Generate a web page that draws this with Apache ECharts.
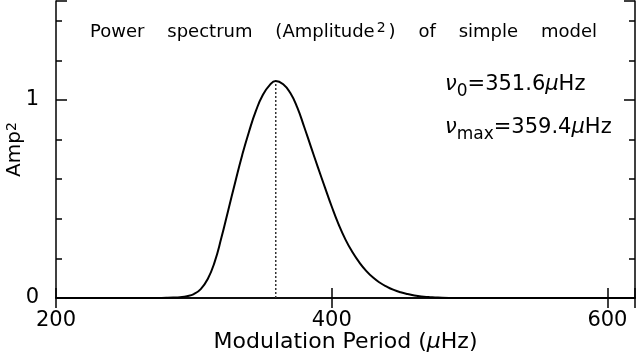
<!DOCTYPE html>
<html>
<head>
<meta charset="utf-8">
<script src="https://cdn.jsdelivr.net/npm/echarts@6/dist/echarts.min.js"></script>
<style>html,body{margin:0;padding:0;background:#fff}#c{width:637px;height:354px}</style>
</head>
<body>
<div id="c"></div>
<script>
// Frequency (μHz) and power (Amp^2) of the simple model
var freq = [200, 250, 270, 280, 285, 290, 295, 300, 305, 310, 315, 320, 325, 330, 335, 340, 345, 350, 355, 359.4, 365, 370, 375, 380, 385, 390, 395, 400, 405, 410, 415, 420, 425, 430, 435, 440, 445, 450, 455, 460, 465, 470, 475, 480, 490, 520, 620];
var power = [0, 0, 0, 0.001, 0.002, 0.004, 0.009, 0.02, 0.045, 0.095, 0.18, 0.305, 0.445, 0.585, 0.72, 0.84, 0.945, 1.025, 1.075, 1.096, 1.078, 1.035, 0.963, 0.865, 0.762, 0.66, 0.56, 0.462, 0.372, 0.295, 0.232, 0.18, 0.137, 0.103, 0.077, 0.057, 0.041, 0.029, 0.02, 0.013, 0.008, 0.005, 0.003, 0.001, 0, 0, 0];
var nuMax = 359.4;
var peakPower = 1.096;
var xTicks = [200, 400, 600];
var yTicks = [0, 1];

var FONT = 'DejaVu Sans';
var chart = echarts.init(document.getElementById('c'), null, {renderer: 'canvas'});

var curve = freq.map(function (f, i) { return [f, power[i]]; });
var marker = [[nuMax, 0], [nuMax, peakPower]];

function xFmt(v) { return xTicks.indexOf(v) >= 0 ? String(v) : ''; }
function yFmt(v) { return yTicks.indexOf(v) >= 0 ? String(v) : ''; }

var axisLine = {show: true, lineStyle: {color: '#000', width: 1.5}};

chart.setOption({
  backgroundColor: '#fff',
  animation: false,
  grid: {left: 56, right: 2, top: 1, bottom: 56, containLabel: false, outerBoundsMode: 'none'},
  xAxis: [{
    type: 'value', min: 200, max: 620, interval: 200, position: 'bottom',
    axisLine: axisLine,
    axisTick: {inside: true, length: 10, lineStyle: {color: '#000', width: 1.5}},
    axisLabel: {fontFamily: FONT, fontSize: 21, color: '#000', margin: 12, formatter: xFmt},
    splitLine: {show: false},
    name: 'Modulation Period ({i|μ}Hz)',
    nameLocation: 'middle', nameGap: 33, nameMoveOverlap: false,
    nameTextStyle: {fontFamily: FONT, fontSize: 22, color: '#000',
      rich: {i: {fontFamily: FONT, fontSize: 22, fontStyle: 'italic', color: '#000'}}}
  }, {
    type: 'value', min: 200, max: 620, interval: 200, position: 'top',
    axisLine: axisLine,
    axisTick: {inside: true, length: 10, lineStyle: {color: '#000', width: 1.5}},
    axisLabel: {show: false},
    splitLine: {show: false}
  }],
  yAxis: [{
    type: 'value', min: 0, max: 1.5, interval: 1, position: 'left',
    axisLine: axisLine,
    axisTick: {inside: true, length: 11, lineStyle: {color: '#000', width: 1.5}},
    minorTick: {show: true, splitNumber: 5, length: 6, lineStyle: {color: '#000', width: 1.5}},
    axisLabel: {fontFamily: FONT, fontSize: 21, color: '#000', margin: 17, formatter: yFmt},
    splitLine: {show: false},
    minorSplitLine: {show: false},
    name: '{m|Amp}{s|2}',
    nameLocation: 'middle', nameGap: 31, nameRotate: 90, nameMoveOverlap: false,
    nameTextStyle: {fontFamily: FONT, fontSize: 20, color: '#000',
      rich: {
        m: {fontFamily: FONT, fontSize: 20, color: '#000', lineHeight: 20, verticalAlign: 'bottom'},
        s: {fontFamily: FONT, fontSize: 14, color: '#000', lineHeight: 14, verticalAlign: 'top'}
      }}
  }, {
    type: 'value', min: 0, max: 1.5, interval: 1, position: 'right',
    axisLine: axisLine,
    axisTick: {inside: true, length: 11, lineStyle: {color: '#000', width: 1.5}},
    minorTick: {show: true, splitNumber: 5, length: 6, lineStyle: {color: '#000', width: 1.5}},
    axisLabel: {show: false},
    splitLine: {show: false},
    minorSplitLine: {show: false}
  }],
  series: [{
    type: 'line', xAxisIndex: 0, yAxisIndex: 0,
    data: curve, showSymbol: false, smooth: 0.5,
    lineStyle: {color: '#000', width: 2}, z: 3
  }, {
    type: 'line', xAxisIndex: 0, yAxisIndex: 0,
    data: marker, showSymbol: false,
    lineStyle: {color: '#333', width: 1.5, type: [2, 2]}, z: 2
  }],
  graphic: [{
    type: 'text', left: 90, top: 21,
    style: {
      text: '{t|Power    spectrum    (Amplitude}{s|2}{t|)    of    simple    model}',
      rich: {
        t: {fontFamily: FONT, fontSize: 18, color: '#000', lineHeight: 20, verticalAlign: 'bottom'},
        s: {fontFamily: FONT, fontSize: 14, color: '#000', lineHeight: 14, verticalAlign: 'top', padding: [0, 3, 0, 2]}
      }
    }
  }, {
    type: 'text', left: 445, top: 74,
    style: {
      text: '{g|ν}{b|0}{t|=351.6}{g|μ}{t|Hz}',
      rich: {
        t: {fontFamily: FONT, fontSize: 21, color: '#000', lineHeight: 22, verticalAlign: 'top'},
        g: {fontFamily: FONT, fontSize: 21, fontStyle: 'italic', color: '#000', lineHeight: 22, verticalAlign: 'top'},
        b: {fontFamily: FONT, fontSize: 17, color: '#000', lineHeight: 17, padding: [9, 0, 0, 0], verticalAlign: 'top'}
      }
    }
  }, {
    type: 'text', left: 445, top: 117,
    style: {
      text: '{g|ν}{b|max}{t|=359.4}{g|μ}{t|Hz}',
      rich: {
        t: {fontFamily: FONT, fontSize: 21, color: '#000', lineHeight: 22, verticalAlign: 'top'},
        g: {fontFamily: FONT, fontSize: 21, fontStyle: 'italic', color: '#000', lineHeight: 22, verticalAlign: 'top'},
        b: {fontFamily: FONT, fontSize: 17, color: '#000', lineHeight: 17, padding: [9, 0, 0, 0], verticalAlign: 'top'}
      }
    }
  }]
});
</script>
</body>
</html>
